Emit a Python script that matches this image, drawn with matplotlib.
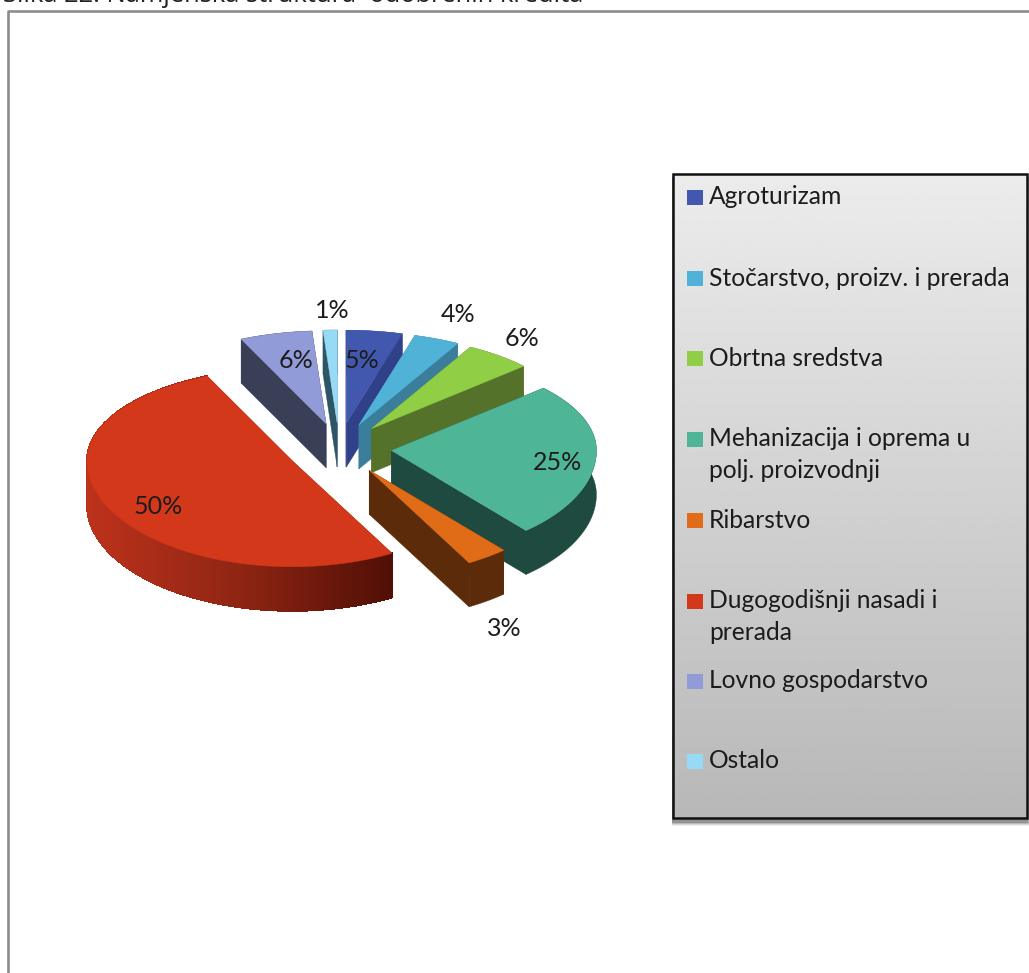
import numpy as np
import matplotlib
matplotlib.use('Agg')
import matplotlib.pyplot as plt
from matplotlib.patches import Polygon, Rectangle
from matplotlib.colors import LinearSegmentedColormap

title = 'Slika 22. Namjenska struktura  odobrenih kredita'
categories = ['Agroturizam', 'Stočarstvo, proizv. i prerada', 'Obrtna sredstva',
              'Mehanizacija i oprema u\npolj. proizvodnji', 'Ribarstvo',
              'Dugogodišnji nasadi i\nprerada', 'Lovno gospodarstvo', 'Ostalo']
values = [4.4, 3.6, 5.3, 25.3, 3.3, 51.3, 5.7, 1.1]
pct_labels = ['5%', '4%', '6%', '25%', '3%', '50%', '6%', '1%']

top_colors = ['#4258AE', '#4FB2D6', '#90CE46', '#4FB597', '#E06C18', '#D4381B', '#919BD7', '#96DAF5']
side_colors = ['#30418A', '#3A7E9C', '#55722A', '#1F4A3F', '#5C2C0A', '#8A2412', '#3A3F58', '#2E5566']

# pixel layout of the pie
cx, cy = 339, 449
rx, ry_up, ry_down = 205, 93, 106
expl_x, expl_y = 52.5, 26
depth = 44

plt.rcParams['font.family'] = ['Lato', 'DejaVu Sans']
fig = plt.figure(figsize=(10.29, 9.73), dpi=100)
ax = fig.add_axes([0, 0, 1, 1])
ax.set_xlim(0, 1029)
ax.set_ylim(973, 0)
ax.axis('off')

# outer chart frame, runs off the page on the right and bottom
ax.plot([8, 8, 1029], [973, 11, 11], color='#8C8C8C', lw=1.9, zorder=1)
ax.text(3, 2, title, fontsize=18.4, color='#222222', va='baseline', ha='left',
        clip_on=True, family=['Open Sans', 'DejaVu Sans'])

def rim_point(ox, oy, ang):
	# ang in degrees clockwise from 12 o'clock
	a = np.radians(ang)
	c = np.cos(a)
	ry = ry_up if c > 0 else ry_down
	return ox + rx * np.sin(a), oy - ry * c

red_rim = LinearSegmentedColormap.from_list('red_rim', ['#BC321B', '#8F2513', '#520F06'])

# back to front
order = [0, 1, 2, 7, 6, 3, 5, 4]
edges = np.cumsum([0] + values) / sum(values) * 360

for i in order:
	start, end = edges[i], edges[i + 1]
	mid = (start + end) / 2
	ox = cx + expl_x * np.sin(np.radians(mid))
	oy = cy - expl_y * np.cos(np.radians(mid))
	angs = np.linspace(start, end, max(int(end - start) * 2, 4))
	rim = np.array([rim_point(ox, oy, a) for a in angs])

	# radial walls
	for k in (0, -1):
		p = rim[k]
		ax.add_patch(Polygon([(ox, oy), p, (p[0], p[1] + depth), (ox, oy + depth)],
		                     closed=True, fc=side_colors[i], ec=side_colors[i], lw=0.3, zorder=3))
	# outer wall, only red is shaded across its width
	if i == 5:
		for j in range(len(rim) - 1):
			a, b = rim[j], rim[j + 1]
			col = red_rim(np.clip((a[0] - 88) / 302, 0, 1))
			ax.add_patch(Polygon([a, b, (b[0], b[1] + depth), (a[0], a[1] + depth)],
			                     closed=True, fc=col, ec=col, lw=0.8, antialiased=False, zorder=3))
	else:
		lower = rim[::-1] + [0, depth]
		ax.add_patch(Polygon(np.vstack([rim, lower]), closed=True, fc=side_colors[i],
		                     ec=side_colors[i], lw=0.3, zorder=3))
	# top face, same zorder so paint order stays back to front
	ax.add_patch(Polygon(np.vstack([[ox, oy], rim]), closed=True, fc=top_colors[i],
	                     ec=top_colors[i], lw=0.3, zorder=3))

label_xy = [(362, 360), (458, 314), (522, 339), (557, 463), (504, 628), (158, 506), (296, 361), (332, 311)]
for s, (lx, ly) in zip(pct_labels, label_xy):
	ax.text(lx, ly, s, fontsize=18, color='#1c1c1c', ha='center', va='center', zorder=5)

# legend box: shadow, gradient, border
box_x0, box_x1, box_y0, box_y1 = 673, 1027, 174, 818
for off, al in zip((5, 4, 3, 2), (0.06, 0.1, 0.14, 0.2)):
	ax.add_patch(Rectangle((box_x0 - 1, box_y0 + 3), box_x1 - box_x0 + off, box_y1 - box_y0 + off,
	                       fc='black', ec='none', alpha=al, zorder=6))
grad = np.linspace(0.925, 0.72, 256).reshape(-1, 1)
ax.imshow(grad, cmap='gray', vmin=0, vmax=1, extent=(box_x0, box_x1, box_y1, box_y0),
          aspect='auto', zorder=7)
ax.set_xlim(0, 1029)
ax.set_ylim(973, 0)
ax.add_patch(Rectangle((box_x0, box_y0), box_x1 - box_x0, box_y1 - box_y0, fc='none',
                       ec='#111111', lw=1.8, zorder=8))

legend_y = [197, 278, 358, 439, 520, 601, 681, 761]
for name, col, y in zip(categories, top_colors, legend_y):
	ax.add_patch(Rectangle((687, y - 7.5), 16, 15, fc=col, ec='none', zorder=8))
	for n, line in enumerate(name.split('\n')):
		ax.text(709, y + n * 32, line, fontsize=17.7, color='#1c1c1c', ha='left', va='center', zorder=9)

fig.savefig('out.png', dpi=100)
